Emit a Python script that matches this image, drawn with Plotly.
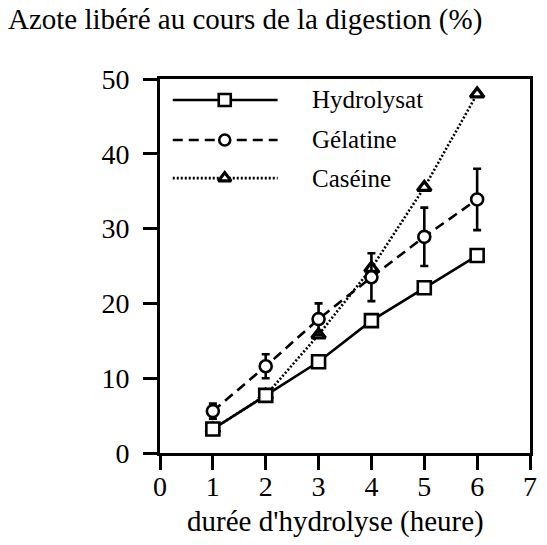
import plotly.graph_objects as go

# Digestion time (hours)
hours = [1, 2, 3, 4, 5, 6]

# Nitrogen released (%) for each protein source
hydrolysat = [3.2, 7.7, 12.2, 17.7, 22.1, 26.4]
gelatine = [5.6, 11.6, 17.9, 23.5, 28.9, 33.9]
gelatine_err = [1.0, 1.6, 2.1, 3.2, 3.9, 4.1]
caseine = [3.2, 7.7, 15.8, 24.7, 35.5, 48.0]

series_names = ["Hydrolysat", "Gélatine", "Caséine"]
x_ticks = [0, 1, 2, 3, 4, 5, 6, 7]
y_ticks = [0, 10, 20, 30, 40, 50]

FONT = "Liberation Serif, Times New Roman, serif"
LW = 2.6

styles = {
    "Hydrolysat": dict(dash="solid", symbol="square", size=13, lw=LW),
    "Gélatine": dict(dash="10px,6px", symbol="circle", size=12, lw=LW),
    "Caséine": dict(dash="2px,2px", symbol="triangle-up", size=12, lw=3.2),
}

fig = go.Figure()

values = {"Hydrolysat": hydrolysat, "Gélatine": gelatine, "Caséine": caseine}
errors = {"Gélatine": gelatine_err}

for name in ["Caséine", "Gélatine", "Hydrolysat"]:
    st = styles[name]
    err = errors.get(name)
    fig.add_trace(go.Scatter(
        x=hours, y=values[name], mode="lines+markers", name=name,
        line=dict(color="black", width=LW, dash=st["dash"]),
        marker=dict(symbol=st["symbol"], size=st["size"], color="white",
                    line=dict(color="black", width=st["lw"])),
        error_y=dict(type="data", array=err, visible=err is not None,
                     color="black", thickness=2.6, width=4),
        showlegend=False,
    ))

# Legend drawn inside the frame on an overlay axis spanning the plot area
leg_y = [0.944, 0.837, 0.735]
leg_x = [0.0345, 0.318]
leg_mark_x = 0.175
for name, yy in zip(series_names, leg_y):
    st = styles[name]
    fig.add_trace(go.Scatter(
        x=leg_x, y=[yy, yy], xaxis="x2", yaxis="y2", mode="lines",
        line=dict(color="black", width=LW, dash=st["dash"]),
        showlegend=False, hoverinfo="skip",
    ))
    fig.add_trace(go.Scatter(
        x=[leg_mark_x], y=[yy], xaxis="x2", yaxis="y2", mode="markers",
        marker=dict(symbol=st["symbol"], size=st["size"] - 1, color="white",
                    line=dict(color="black", width=st["lw"])),
        showlegend=False, hoverinfo="skip",
    ))
    fig.add_annotation(x=0.406, y=yy, xref="x2", yref="y2", text=name,
                       showarrow=False, xanchor="left", yanchor="middle",
                       font=dict(family=FONT, size=25, color="black"))

axis_common = dict(
    showline=True, linecolor="black", linewidth=3, mirror=True,
    ticks="outside", ticklen=14, tickwidth=3, tickcolor="black",
    showgrid=False, zeroline=False,
    tickfont=dict(family=FONT, size=28, color="black"),
)

fig.update_layout(
    width=547, height=545,
    margin=dict(l=160, r=10, t=79, b=92),
    paper_bgcolor="white", plot_bgcolor="white",
    xaxis=dict(range=[0, 7], tickvals=x_ticks, ticklabelstandoff=-8, **axis_common),
    yaxis=dict(range=[0, 50], tickvals=y_ticks, ticklabelstandoff=8, **axis_common),
    xaxis2=dict(range=[0, 1], overlaying="x", visible=False, fixedrange=True),
    yaxis2=dict(range=[0, 1], overlaying="y", visible=False, fixedrange=True),
    showlegend=False,
)

fig.add_annotation(text="Azote libéré au cours de la digestion (%)",
                   xref="paper", yref="paper", x=-0.415, y=1.158,
                   xanchor="left", yanchor="middle", showarrow=False,
                   font=dict(family=FONT, size=29, color="black"))
fig.add_annotation(text="durée d'hydrolyse (heure)",
                   xref="paper", yref="paper", x=0.475, y=-0.182,
                   xanchor="center", yanchor="middle", showarrow=False,
                   font=dict(family=FONT, size=29, color="black"))

fig.write_html("out.html")
